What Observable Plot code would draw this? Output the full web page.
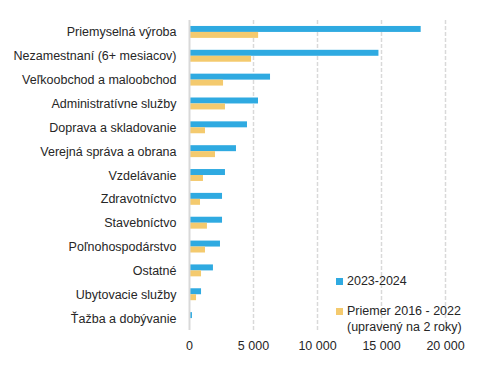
<!DOCTYPE html>
<html>
<head>
<meta charset="utf-8">
<script src="https://cdn.jsdelivr.net/npm/d3@7"></script>
<script src="https://cdn.jsdelivr.net/npm/@observablehq/plot@0.6"></script>
<style>
  body { margin: 0; background: #fff; }
  #wrap { position: relative; width: 487px; height: 370px; font-family: "Liberation Sans", Arial, sans-serif; color: #262626; }
  .leg { position: absolute; font-size: 12.5px; line-height: 16px; white-space: nowrap; }
  .sw { position: absolute; width: 7px; height: 7px; }
</style>
</head>
<body>
<div id="wrap"></div>
<script>
const categories = [
  "Priemyselná výroba",
  "Nezamestnaní (6+ mesiacov)",
  "Veľkoobchod a maloobchod",
  "Administratívne služby",
  "Doprava a skladovanie",
  "Verejná správa a obrana",
  "Vzdelávanie",
  "Zdravotníctvo",
  "Stavebníctvo",
  "Poľnohospodárstvo",
  "Ostatné",
  "Ubytovacie služby",
  "Ťažba a dobývanie"
];
const values2324 = [18100, 14800, 6330, 5390, 4530, 3670, 2810, 2580, 2580, 2420, 1870, 940, 230];
const avg1622 = [5400, 4850, 2660, 2810, 1250, 2030, 1090, 860, 1400, 1250, 940, 550, 0];
const seriesNames = ["2023-2024", "Priemer 2016 - 2022", "(upravený na 2 roky)"];
const xTicks = [0, 5000, 10000, 15000, 20000];
const colors = ["#2FAAE1", "#F4CA6E"];

const rows = categories.map((c, i) => ({cat: c, a: values2324[i], b: avg1622[i]}));
const fmt = d => d3.format(",")(d).replace(/,/g, " ");

const chart = Plot.plot({
  width: 487,
  height: 370,
  marginLeft: 189,
  marginRight: 42,
  marginTop: 20,
  marginBottom: 40,
  style: {fontFamily: "Liberation Sans, Arial, sans-serif", fontSize: "12.5px", color: "#262626", background: "#fff"},
  x: {domain: [0, 20000], ticks: xTicks, tickFormat: fmt, label: null},
  y: {domain: categories, paddingInner: 0.5, paddingOuter: 0.25, round: false, label: null},
  marks: [
    Plot.gridX(xTicks.slice(1), {stroke: "#d9d9d9", strokeOpacity: 1, strokeWidth: 1.5, strokeDasharray: "4,2"}),
    Plot.barX(rows, {y: "cat", x: "a", fill: colors[0], insetBottom: 5.95}),
    Plot.barX(rows, {y: "cat", x: "b", fill: colors[1], insetTop: 5.95}),
    Plot.ruleX([0], {stroke: "#d9d9d9", strokeWidth: 2}),
    Plot.axisX({ticks: xTicks, tickFormat: fmt, tickSize: 0, tickPadding: 11, label: null}),
    Plot.axisY({tickSize: 0, tickPadding: 13, label: null})
  ]
});

const wrap = document.getElementById("wrap");
wrap.appendChild(chart);

function addLeg(color, lines, sqTop, textTop) {
  const sq = document.createElement("div");
  sq.className = "sw";
  sq.style.left = "336px";
  sq.style.top = sqTop + "px";
  sq.style.background = color;
  wrap.appendChild(sq);
  const t = document.createElement("div");
  t.className = "leg";
  t.style.left = "347px";
  t.style.top = textTop + "px";
  t.innerHTML = lines.join("<br>");
  wrap.appendChild(t);
}
addLeg(colors[0], [seriesNames[0]], 278, 273);
addLeg(colors[1], [seriesNames[1], seriesNames[2]], 308, 303);
</script>
</body>
</html>
